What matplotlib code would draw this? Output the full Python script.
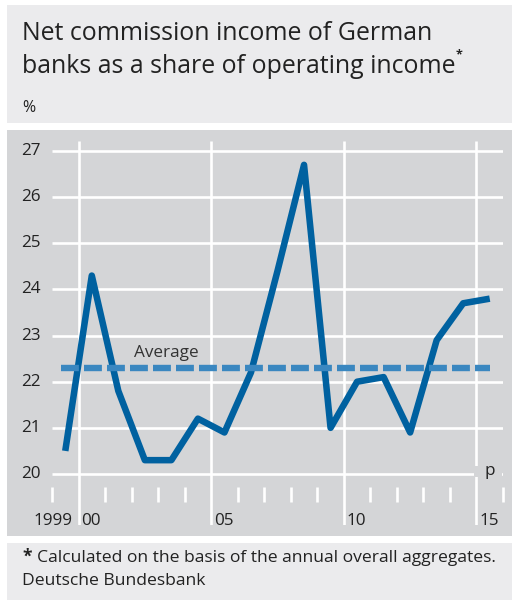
import matplotlib
matplotlib.use("Agg")
import matplotlib.pyplot as plt
from matplotlib.patches import Rectangle

plt.rcParams['font.family'] = ['Open Sans', 'DejaVu Sans']

# ---- data ----
years = [1999, 2000, 2001, 2002, 2003, 2004, 2005, 2006, 2007, 2008,
         2009, 2010, 2011, 2012, 2013, 2014, 2015]
share = [20.5, 24.3, 21.8, 20.3, 20.3, 21.2, 20.9, 22.2, 24.4, 26.7,
         21.0, 22.0, 22.1, 20.9, 22.9, 23.7, 23.8]
average = 22.3
ytick_vals = [20, 21, 22, 23, 24, 25, 26, 27]
xlabel_years = [1999, 2000, 2005, 2010, 2015]
xlabel_texts = ["1999", "00", "05", "10", "15"]
title_lines = ["Net commission income of German",
               "banks as a share of operating income"]
footnote = "Calculated on the basis of the annual overall aggregates."
source = "Deutsche Bundesbank"

W, H = 512, 604
fig = plt.figure(figsize=(W / 100, H / 100), dpi=100)
fig.patch.set_facecolor("white")

def fx(x):
    return x / W

def fy(y):
    return 1 - y / H

LIGHT = "#ebebed"
CHART = "#d4d5d7"
TXT = "#222222"
LINE = "#0061a0"
DASH = "#3a87c0"

# panels
for (x0, y0, x1, y1, c) in [(7, 5, 512, 123, LIGHT),
                            (7, 130, 512, 536, CHART),
                            (7, 543, 512, 600, LIGHT)]:
    fig.patches.append(Rectangle((fx(x0), fy(y1)), fx(x1) - fx(x0), fy(y0) - fy(y1),
                                 transform=fig.transFigure, facecolor=c,
                                 edgecolor="none", zorder=-10))

# title
fig.text(fx(22), fy(40), title_lines[0], fontsize=17.9, color=TXT, va="baseline", ha="left")
t2 = fig.text(fx(22), fy(73), title_lines[1], fontsize=17.9, color=TXT, va="baseline", ha="left")
fig.canvas.draw()
bb = t2.get_window_extent(renderer=fig.canvas.get_renderer())
fig.text(bb.x1 / W + fx(0.5), fy(58), "*", fontsize=9, color=TXT, va="baseline", ha="left",
         fontweight="bold")
fig.text(fx(22), fy(112), "%", fontsize=11.5, color=TXT, va="baseline", ha="left")

# footer
fig.text(fx(22), fy(562), "*", fontsize=12.5, color=TXT, va="baseline", ha="left",
         fontweight="bold")
fig.text(fx(37), fy(562), footnote, fontsize=12.6, color=TXT, va="baseline", ha="left")
fig.text(fx(22), fy(585), source, fontsize=12.6, color=TXT, va="baseline", ha="left")

# axes
ax_l, ax_r, ax_t, ax_b = 52, 503, 141, 525
ax = fig.add_axes([fx(ax_l), fy(ax_b), fx(ax_r) - fx(ax_l), fy(ax_t) - fy(ax_b)])
ax.set_facecolor("none")
for s in ax.spines.values():
    s.set_visible(False)
ax.set_xticks([])
ax.set_yticks([])
px_per_unit = (474 - 151) / 7.0
ylo = 20 - (ax_b - 474) / px_per_unit
yhi = 27 + (151 - ax_t) / px_per_unit
ax.set_xlim(1999, 2016)
ax.set_ylim(ylo, yhi)

# horizontal gridlines
ax.hlines(ytick_vals, 1999, 2016, colors="white", linewidth=1.9, zorder=1)
# vertical gridlines
ax.vlines([2000, 2005, 2010, 2015], ylo, yhi, colors="white", linewidth=1.9, zorder=1)
# minor ticks
minor = [y for y in range(1999, 2017) if y not in (2000, 2005, 2010, 2015)]
t_top = 20 - (487 - 474) / px_per_unit
t_bot = 20 - (502 - 474) / px_per_unit
ax.vlines(minor, t_bot, t_top, colors="white", linewidth=1.9, zorder=1, clip_on=False)

# y tick labels
for v in ytick_vals:
    ax.annotate(str(v), xy=(1999, v), xytext=(-11, 0), textcoords="offset pixels",
                ha="right", va="center", fontsize=12.3, color=TXT)

# x labels
upp = 451 / 17.0
for yr, lab in zip(xlabel_years, xlabel_texts):
    if lab == "1999":
        ax.text(2000 - 6 / upp, ylo, lab, ha="right", va="baseline", fontsize=12.3, color=TXT)
    else:
        ax.text(yr + 3 / upp, ylo, lab, ha="left", va="baseline", fontsize=12.3, color=TXT)

# "p" marker
ax.add_patch(Rectangle((2015 - 2 / upp, 20 - 3 / px_per_unit), 28 / upp, 11 / px_per_unit,
                       facecolor=CHART, edgecolor="none", zorder=2))
ax.text(2015.5, 20 - 1 / px_per_unit, "p", ha="center", va="baseline", fontsize=12.3,
        color=TXT, zorder=3)

# data line
xs = [y + 0.5 for y in years]
ax.plot(xs, share, color=LINE, linewidth=4.7, solid_joinstyle="round",
        solid_capstyle="butt", zorder=4)
# average
ax.plot([1999.35, 2015.5], [average, average], color=DASH, linewidth=4.6,
        dashes=(2.8, 0.8), dash_capstyle="butt", zorder=5)
ax.text(1999 + (134 - 52) / upp, 20 + (474 - 357) / px_per_unit, "Average",
        ha="left", va="baseline", fontsize=12.3, color="#333333", zorder=6)

fig.savefig("out.png", dpi=100, facecolor="white")
